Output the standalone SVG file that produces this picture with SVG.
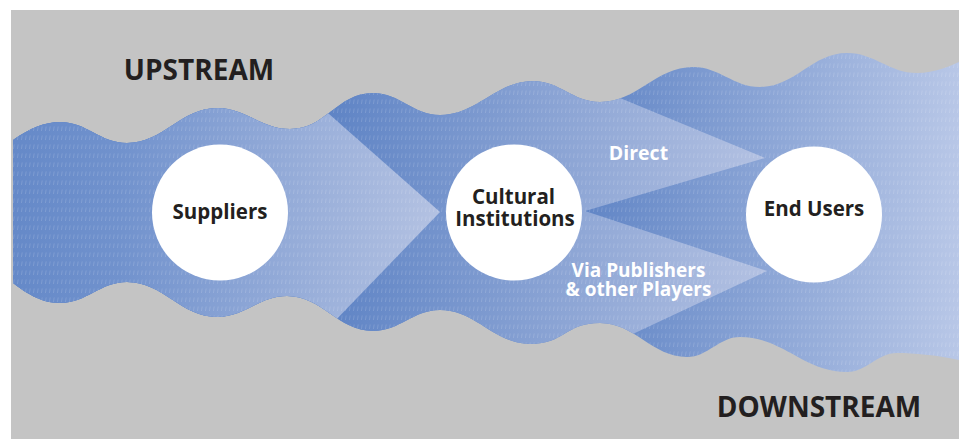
<svg xmlns="http://www.w3.org/2000/svg" width="959" height="439" viewBox="0 0 959 439">
  <style>
    .node { fill: #ffffff; }
    .nlabel { font-family: "Open Sans", "Liberation Sans", sans-serif; font-weight: 700; font-size: 20.5px; fill: #231f20; text-anchor: middle; }
    .flabel { font-family: "Open Sans", "Liberation Sans", sans-serif; font-weight: 700; fill: #ffffff; text-anchor: middle; }
    .big { font-family: "Open Sans", "Liberation Sans", sans-serif; font-weight: 700; font-size: 28px; fill: #231f20; text-anchor: middle; }
  </style>
  <defs>
    <clipPath id="river">
      <path d="M13,140 C30,128 45,122 60,122 C87,122 100,143 127,143 C163,143 181,108 217,108 C246,108 261,129 290,129 C326,129 337,93 373,93 C400,93 413,115 440,115 C477,115 496,81 533,81 C560,81 573,102 600,102 C637,102 656,67 693,67 C720,67 733,87 760,87 C795,87 812,53 847,53 C875,53 889,73 917,73 C935,73 950,66 959,62 L959,360 C935,355 915,353 897,353 C877,353 867,372 847,372 C804,372 783,337 740,337 C719,337 708,357 687,357 C652,357 635,323 600,323 C565,323 565,344 530,344 C494,344 476,310 440,310 C413,310 400,331 373,331 C338,331 322,296 287,296 C259,296 245,317 217,317 C181,317 163,282 127,282 C100,282 87,303 60,303 C40,303 25,292 13,283 Z"/>
    </clipPath>
    <linearGradient id="gA" gradientUnits="userSpaceOnUse" x1="13" y1="0" x2="440" y2="0">
      <stop offset="0" stop-color="#6589c8"/>
      <stop offset="0.25" stop-color="#7192cd"/>
      <stop offset="1" stop-color="#b4c2e2"/>
    </linearGradient>
    <linearGradient id="gB" gradientUnits="userSpaceOnUse" x1="330" y1="0" x2="765" y2="0">
      <stop offset="0" stop-color="#5f84c5"/>
      <stop offset="1" stop-color="#b3c1e2"/>
    </linearGradient>
    <linearGradient id="gC" gradientUnits="userSpaceOnUse" x1="590" y1="0" x2="959" y2="0">
      <stop offset="0" stop-color="#6286c6"/>
      <stop offset="1" stop-color="#b8c7e7"/>
    </linearGradient>
    <pattern id="tex" width="4" height="9" patternUnits="userSpaceOnUse">
      <path d="M2.2,0.5 L1.4,5" stroke="#ffffff" stroke-opacity="0.2" stroke-width="0.7" fill="none"/>
    </pattern>
  </defs>

  <rect x="11" y="10" width="948" height="429" fill="#c4c4c4"/>

  <g id="connectors" clip-path="url(#river)">
    <rect id="flow-to-end-users" x="0" y="0" width="959" height="439" fill="url(#gC)"/>
    <polygon id="flow-institutions" points="0,0 383,0 765,158 585,211 767,271 409,439 0,439" fill="url(#gB)"/>
    <polygon id="flow-suppliers" points="0,0 200,0 440,212 221,439 0,439" fill="url(#gA)"/>
    <rect x="0" y="0" width="959" height="439" fill="url(#tex)"/>
  </g>

  <g id="labels-flow">
    <text class="flabel" x="638.5" y="160" font-size="19.5">Direct</text>
    <text class="flabel" x="638.5" y="276.7" font-size="19">Via Publishers</text>
    <text class="flabel" x="638.5" y="295.7" font-size="19">&amp; other Players</text>
  </g>

  <g id="node-suppliers">
    <circle class="node" cx="220" cy="212.5" r="68"/>
    <text class="nlabel" x="220" y="218.5">Suppliers</text>
  </g>
  <g id="node-cultural-institutions">
    <circle class="node" cx="514" cy="212.5" r="68"/>
    <text class="nlabel" x="513.5" y="203.5">Cultural</text>
    <text class="nlabel" x="515" y="226">Institutions</text>
  </g>
  <g id="node-end-users">
    <circle class="node" cx="814" cy="214.5" r="68"/>
    <text class="nlabel" x="814" y="216">End Users</text>
  </g>

  <g id="region-labels">
    <text class="big" x="199" y="80">UPSTREAM</text>
    <text class="big" x="819" y="417">DOWNSTREAM</text>
  </g>
</svg>
